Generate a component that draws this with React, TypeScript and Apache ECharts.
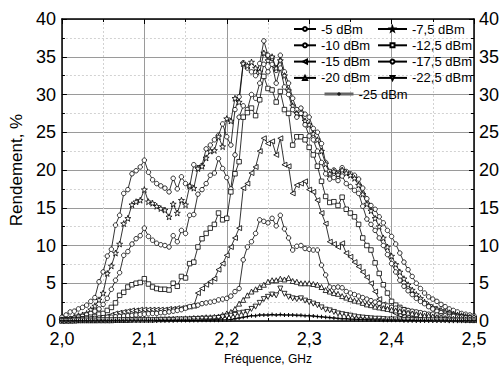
import React, { useEffect, useRef } from "react";
import * as echarts from "echarts";

const F_START = 2.0;
const F_STEP = 0.005;
const N_POINTS = 101;

const seriesNames = [
  "-5 dBm", "-7,5 dBm", "-10 dBm", "-12,5 dBm", "-15 dBm",
  "-17,5 dBm", "-20 dBm", "-22,5 dBm", "-25 dBm",
];

const s5 = [
  0.5, 0.8, 1.2, 1.3, 1.6, 1.8, 2.1, 2.6, 3.1, 5.2,
  6.5, 8.6, 9.5, 12.7, 14.0, 16.9, 17.4, 19.5, 19.9, 20.4,
  21.3, 19.7, 18.7, 18.2, 17.9, 17.6, 17.1, 18.9, 17.5, 19.1,
  18.2, 17.8, 20.7, 20.3, 20.6, 22.8, 23.3, 24.0, 24.6, 26.1,
  24.4, 23.3, 28.0, 29.7, 34.2, 33.5, 33.0, 32.5, 34.1, 37.1,
  35.2, 34.8, 33.2, 35.2, 33.0, 31.5, 29.5, 28.0, 28.2, 27.4,
  27.0, 25.5, 25.0, 23.5, 21.0, 19.8, 20.0, 19.6, 20.3, 19.8,
  19.5, 19.3, 18.8, 17.6, 16.2, 15.3, 14.8, 13.8, 13.0, 12.0,
  11.2, 10.2, 9.0, 7.8, 6.8, 5.9, 5.0, 4.3, 3.7, 3.2,
  2.9, 2.6, 2.2, 1.9, 1.6, 1.4, 1.2, 1.0, 0.9, 0.8,
  0.7,
];
const s7 = [
  0.1, 0.2, 0.3, 0.5, 0.7, 0.8, 1.0, 1.5, 2.0, 2.8,
  3.7, 6.3, 7.3, 9.0, 10.2, 12.9, 13.6, 15.4, 15.8, 16.0,
  17.4, 15.8, 15.6, 15.2, 14.9, 14.7, 13.8, 15.5, 14.3, 16.0,
  15.4, 17.9, 17.6, 20.2, 20.5, 21.6, 22.5, 22.6, 24.4, 23.1,
  26.8, 26.5, 29.5, 29.0, 34.1, 33.8, 34.3, 33.5, 33.0, 35.5,
  34.5, 35.0, 33.5, 34.5, 32.5, 30.5, 28.5, 27.5, 27.5, 26.5,
  26.0, 24.8, 24.0, 22.5, 20.8, 19.5, 19.8, 19.4, 20.0, 19.6,
  19.3, 18.9, 18.0, 16.8, 15.5, 14.6, 13.6, 12.5, 11.0, 9.8,
  8.6, 7.5, 6.5, 5.6, 4.8, 4.1, 3.5, 3.0, 2.5, 2.1,
  1.8, 1.6, 1.4, 1.2, 1.1, 0.9, 0.8, 0.7, 0.6, 0.5,
  0.5,
];
const s10 = [
  0.2, 0.2, 0.3, 0.4, 0.5, 0.6, 0.8, 1.0, 1.3, 1.6,
  2.2, 3.0, 4.2, 5.4, 6.4, 8.7, 9.2, 10.2, 10.9, 11.3,
  12.3, 11.2, 10.7, 10.3, 10.1, 10.0, 9.8, 11.3, 10.5, 12.0,
  11.6, 14.0, 14.1, 16.8, 17.4, 18.2, 19.3, 19.6, 21.5, 20.2,
  19.0, 17.5, 22.0, 27.0, 28.5, 28.0, 30.0, 29.5, 31.5, 34.0,
  33.0, 34.0, 31.5, 33.5, 31.0, 30.0, 28.0, 27.0, 27.5, 26.0,
  24.5, 24.0, 22.5, 21.0, 19.5, 18.8, 19.0, 18.6, 19.2, 18.2,
  17.8, 17.3, 16.9, 15.2, 13.5, 12.8, 12.0, 11.0, 10.0, 8.8,
  7.6, 6.5, 5.4, 4.6, 4.0, 3.5, 3.0, 2.6, 2.3, 1.9,
  1.6, 1.3, 1.1, 0.9, 0.8, 0.7, 0.6, 0.5, 0.4, 0.4,
  0.3,
];
const s12 = [
  0.1, 0.1, 0.1, 0.2, 0.2, 0.3, 0.4, 0.5, 0.6, 0.9,
  1.0, 1.4, 1.8, 2.4, 3.4, 3.8, 4.5, 4.8, 5.0, 5.1,
  5.6, 4.9, 4.5, 4.3, 4.2, 4.2, 4.1, 5.0, 4.6, 5.9,
  5.7, 7.6, 7.8, 9.8, 10.9, 11.6, 12.3, 12.8, 14.3, 13.4,
  13.6, 17.1, 19.5, 21.1, 27.0, 27.6, 28.2, 27.2, 29.3, 32.4,
  30.8, 30.6, 29.0, 30.4, 28.0, 27.5, 23.3, 24.4, 24.4, 24.0,
  23.0, 22.0, 20.5, 18.5, 16.5, 15.7, 15.8, 15.3, 16.4, 14.8,
  14.3, 13.8, 12.8, 11.0, 10.0, 9.4, 7.7, 6.3, 4.8, 3.7,
  2.6, 2.1, 1.8, 1.5, 1.3, 1.2, 1.1, 1.0, 0.9, 0.8,
  0.7, 0.6, 0.6, 0.5, 0.5, 0.4, 0.4, 0.4, 0.3, 0.3,
  0.3,
];
const s15 = [
  0.05, 0.05, 0.1, 0.1, 0.1, 0.2, 0.2, 0.3, 0.3, 0.4,
  0.5, 0.6, 0.8, 1.0, 1.1, 1.2, 1.3, 1.4, 1.4, 1.5,
  1.5, 1.5, 1.5, 1.5, 1.5, 1.5, 1.6, 1.6, 1.7, 1.7,
  1.8, 1.9, 2.0, 3.7, 4.3, 4.8, 5.2, 5.6, 6.8, 7.6,
  8.7, 9.8, 11.0, 12.3, 17.6, 18.2, 19.6, 20.4, 22.5, 24.2,
  23.5, 23.8, 22.0, 24.2, 20.7, 20.5, 16.9, 18.0, 18.2, 18.5,
  17.4, 17.1, 16.0, 14.3, 12.9, 10.5, 10.2, 9.8, 10.3, 9.0,
  8.5, 7.8, 7.2, 6.5, 5.8, 5.0, 3.9, 2.9, 2.2, 1.7,
  1.3, 1.0, 0.8, 0.6, 0.5, 0.4, 0.35, 0.3, 0.3, 0.3,
  0.25, 0.25, 0.2, 0.2, 0.2, 0.2, 0.15, 0.15, 0.15, 0.1,
  0.1,
];
const s17 = [
  0.1, 0.1, 0.15, 0.2, 0.2, 0.25, 0.3, 0.3, 0.35, 0.4,
  0.45, 0.5, 0.5, 0.55, 0.6, 0.65, 0.7, 0.75, 0.8, 0.85,
  0.9, 0.95, 1.0, 1.0, 1.1, 1.1, 1.2, 1.3, 1.4, 1.5,
  1.7, 1.9, 2.0, 2.1, 2.3, 2.4, 2.5, 2.6, 2.8, 2.9,
  3.0, 3.3, 3.9, 4.3, 8.1, 9.8, 10.5, 11.6, 13.4, 13.2,
  13.0, 13.6, 12.6, 14.0, 12.2, 11.0, 9.4, 9.9, 10.0, 9.6,
  9.5, 9.4, 9.4, 7.4, 6.1, 4.5, 4.4, 4.5, 4.4, 3.9,
  3.7, 3.5, 3.3, 3.1, 2.9, 2.7, 2.5, 2.3, 2.1, 2.0,
  1.8, 1.7, 1.6, 1.5, 1.4, 1.3, 1.2, 1.1, 1.0, 0.9,
  0.9, 0.8, 0.7, 0.7, 0.6, 0.6, 0.5, 0.5, 0.4, 0.4,
  0.4,
];
const s20 = [
  0.05, 0.05, 0.05, 0.05, 0.1, 0.1, 0.1, 0.1, 0.1, 0.1,
  0.1, 0.1, 0.1, 0.15, 0.15, 0.15, 0.15, 0.2, 0.2, 0.2,
  0.2, 0.2, 0.2, 0.25, 0.25, 0.25, 0.3, 0.3, 0.3, 0.3,
  0.35, 0.35, 0.4, 0.4, 0.45, 0.5, 0.5, 0.55, 0.6, 0.8,
  1.0, 1.2, 1.6, 2.3, 2.8, 3.4, 3.9, 4.2, 4.5, 4.8,
  5.2, 5.4, 5.4, 5.6, 5.5, 5.7, 5.3, 5.2, 5.0, 5.0,
  5.0, 4.9, 4.8, 4.5, 4.1, 3.9, 3.7, 3.6, 3.3, 3.1,
  2.9, 2.7, 2.6, 2.4, 2.2, 2.1, 1.9, 1.8, 1.7, 1.6,
  1.5, 1.4, 1.3, 1.2, 1.1, 1.0, 0.9, 0.8, 0.7, 0.7,
  0.6, 0.5, 0.5, 0.4, 0.4, 0.3, 0.3, 0.3, 0.2, 0.2,
  0.2,
];
const s22 = [
  0.02, 0.02, 0.02, 0.05, 0.05, 0.05, 0.05, 0.05, 0.05, 0.1,
  0.1, 0.1, 0.1, 0.1, 0.1, 0.1, 0.1, 0.1, 0.1, 0.1,
  0.1, 0.1, 0.1, 0.1, 0.15, 0.15, 0.15, 0.15, 0.2, 0.2,
  0.2, 0.2, 0.25, 0.25, 0.3, 0.3, 0.3, 0.35, 0.4, 0.5,
  0.6, 0.7, 0.8, 1.0, 1.1, 1.2, 1.6, 1.9, 2.4, 2.9,
  3.2, 3.5, 3.4, 4.3, 3.6, 3.2, 3.0, 2.9, 3.0, 2.7,
  2.5, 2.3, 2.1, 1.8, 1.5, 1.4, 1.2, 1.0, 0.9, 0.8,
  0.7, 0.6, 0.5, 0.45, 0.4, 0.35, 0.3, 0.3, 0.25, 0.2,
  0.2, 0.2, 0.2, 0.15, 0.15, 0.15, 0.1, 0.1, 0.1, 0.1,
  0.1, 0.1, 0.1, 0.1, 0.05, 0.05, 0.05, 0.05, 0.05, 0.05,
  0.05,
];
const s25 = [
  0.02, 0.02, 0.02, 0.02, 0.02, 0.03, 0.03, 0.03, 0.03, 0.03,
  0.03, 0.03, 0.04, 0.04, 0.04, 0.04, 0.05, 0.05, 0.05, 0.05,
  0.05, 0.05, 0.05, 0.06, 0.06, 0.06, 0.06, 0.07, 0.07, 0.07,
  0.07, 0.08, 0.08, 0.08, 0.09, 0.09, 0.1, 0.1, 0.11, 0.12,
  0.15, 0.2, 0.3, 0.4, 0.5, 0.6, 0.7, 0.7, 0.8, 0.8,
  0.8, 0.85, 0.8, 0.85, 0.8, 0.8, 0.8, 0.75, 0.75, 0.7,
  0.7, 0.65, 0.6, 0.55, 0.5, 0.45, 0.4, 0.35, 0.3, 0.3,
  0.25, 0.22, 0.2, 0.18, 0.16, 0.15, 0.14, 0.12, 0.11, 0.1,
  0.1, 0.09, 0.09, 0.08, 0.08, 0.07, 0.07, 0.06, 0.06, 0.06,
  0.05, 0.05, 0.05, 0.05, 0.04, 0.04, 0.04, 0.04, 0.03, 0.03,
  0.03,
];

const seriesValues = [s5, s7, s10, s12, s15, s17, s20, s22, s25];

const STAR =
  "path://M0,-10 L2.35,-3.24 L9.51,-3.09 L3.8,1.24 L5.88,8.09 L0,4 L-5.88,8.09 L-3.8,1.24 L-9.51,-3.09 L-2.35,-3.24 Z";
const PLUS =
  "path://M-1.2,-5 L1.2,-5 L1.2,-1.2 L5,-1.2 L5,1.2 L1.2,1.2 L1.2,5 L-1.2,5 L-1.2,1.2 L-5,1.2 L-5,-1.2 L-1.2,-1.2 Z";

const seriesSymbols: { symbol: string; rotate: number; size: number }[] = [
  { symbol: "circle", rotate: 0, size: 4.5 },
  { symbol: STAR, rotate: 0, size: 6 },
  { symbol: "circle", rotate: 0, size: 4.5 },
  { symbol: "rect", rotate: 0, size: 4.5 },
  { symbol: "triangle", rotate: 90, size: 5 },
  { symbol: "circle", rotate: 0, size: 4.5 },
  { symbol: "triangle", rotate: 0, size: 5 },
  { symbol: "triangle", rotate: 180, size: 5 },
  { symbol: PLUS, rotate: 0, size: 4 },
];

const FONT = "'Liberation Sans', Arial, Helvetica, sans-serif";

export default function App() {
  const ref = useRef<HTMLDivElement>(null);

  useEffect(() => {
    document.body.style.margin = "0";
    if (!ref.current) return;
    const chart = echarts.init(ref.current, undefined, { renderer: "svg" });

    const freqs: number[] = [];
    for (let i = 0; i < N_POINTS; i++) freqs.push(+(F_START + i * F_STEP).toFixed(3));

    const series = seriesNames.map((name, k) => {
      const isLast = k === seriesNames.length - 1;
      const sym = seriesSymbols[k];
      return {
        name,
        type: "line",
        xAxisIndex: 0,
        yAxisIndex: 0,
        data: freqs.map((f, i) => [f, seriesValues[k][i]]),
        symbol: sym.symbol,
        symbolSize: sym.size,
        symbolRotate: sym.rotate,
        showSymbol: true,
        lineStyle: { color: isLast ? "#555" : "#000", width: isLast ? 1.6 : 0.8 },
        itemStyle: isLast
          ? { color: "#000", borderColor: "#000", borderWidth: 0 }
          : { color: "#fff", borderColor: "#000", borderWidth: 0.8 },
        emphasis: { disabled: true },
        z: 3,
      };
    });

    const legendBase = {
      orient: "vertical",
      itemHeight: 5,
      itemGap: 2.3,
      padding: 0,
      selectedMode: false,
      textStyle: { fontSize: 13, lineHeight: 14, color: "#000", fontFamily: FONT },
    };

    const axisLineStyle = { color: "#000", width: 1.5 };

    const option = {
      animation: false,
      backgroundColor: "#fff",
      textStyle: { fontFamily: FONT },
      grid: { left: 61, right: 29, top: 19, bottom: 55, containLabel: false },
      legend: [
        { ...legendBase, data: ["-5 dBm", "-10 dBm", "-15 dBm", "-20 dBm"], left: 293, top: 22, itemWidth: 22 },
        { ...legendBase, data: ["-7,5 dBm", "-12,5 dBm", "-17,5 dBm", "-22,5 dBm"], left: 377, top: 22, itemWidth: 29 },
        { ...legendBase, data: ["-25 dBm"], left: 323, top: 87, itemWidth: 29, lineStyle: { width: 3, color: "#666" } },
      ],
      xAxis: [
        {
          type: "value",
          min: 2.0,
          max: 2.5,
          interval: 0.1,
          position: "bottom",
          axisLine: { show: true, onZero: false, lineStyle: axisLineStyle },
          axisTick: { show: true, inside: true, length: 5, lineStyle: { color: "#000" } },
          minorTick: { show: true, splitNumber: 2, length: 3, lineStyle: { color: "#000" } },
          splitLine: { show: true, lineStyle: { color: "#9a9a9a", width: 1 } },
          minorSplitLine: { show: true, lineStyle: { color: "#d2d2d2", width: 1, type: [2, 2] } },
          axisLabel: {
            formatter: (v: number) => v.toFixed(1).replace(".", ","),
            fontSize: 18,
            color: "#000",
            margin: 9,
            fontFamily: FONT,
          },
          name: "Fréquence, GHz",
          nameLocation: "middle",
          nameGap: 31,
          nameTextStyle: { fontSize: 12, color: "#000", fontFamily: FONT },
        },
        {
          type: "value",
          min: 2.0,
          max: 2.5,
          interval: 0.1,
          position: "top",
          axisLine: { show: true, onZero: false, lineStyle: axisLineStyle },
          axisTick: { show: true, inside: true, length: 5, lineStyle: { color: "#000" } },
          minorTick: { show: true, splitNumber: 2, length: 3, lineStyle: { color: "#000" } },
          splitLine: { show: false },
          axisLabel: { show: false },
        },
      ],
      yAxis: [
        {
          type: "value",
          min: 0,
          max: 40,
          interval: 5,
          position: "left",
          axisLine: { show: true, onZero: false, lineStyle: axisLineStyle },
          axisTick: { show: true, inside: true, length: 5, lineStyle: { color: "#000" } },
          minorTick: { show: true, splitNumber: 2, length: 3, lineStyle: { color: "#000" } },
          splitLine: { show: true, lineStyle: { color: "#9a9a9a", width: 1 } },
          minorSplitLine: { show: true, lineStyle: { color: "#d2d2d2", width: 1, type: [2, 2] } },
          axisLabel: { fontSize: 18, color: "#000", margin: 6, fontFamily: FONT },
          name: "Rendement, %",
          nameLocation: "middle",
          nameGap: 36,
          nameTextStyle: { fontSize: 17, color: "#000", fontFamily: FONT },
        },
        {
          type: "value",
          min: 0,
          max: 40,
          interval: 5,
          position: "right",
          axisLine: { show: true, onZero: false, lineStyle: axisLineStyle },
          axisTick: { show: true, inside: true, length: 5, lineStyle: { color: "#000" } },
          minorTick: { show: true, splitNumber: 2, length: 3, lineStyle: { color: "#000" } },
          splitLine: { show: false },
          axisLabel: { fontSize: 18, color: "#000", margin: 5, fontFamily: FONT },
        },
      ],
      series,
    };

    chart.setOption(option as any);
    return () => chart.dispose();
  }, []);

  return <div ref={ref} style={{ width: 503, height: 376 }} />;
}
